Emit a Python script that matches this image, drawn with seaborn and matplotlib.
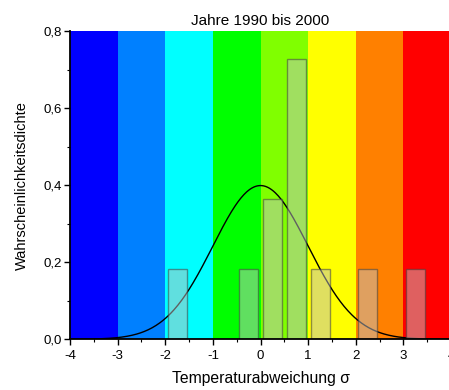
import numpy as np
import pandas as pd
import matplotlib
matplotlib.use("Agg")
import matplotlib.pyplot as plt
from matplotlib.ticker import MultipleLocator, FuncFormatter
import seaborn as sns

# Annual temperature deviations (in sigma) grouped into 0.5-wide classes
bin_centers = [-1.75, -0.25, 0.25, 0.75, 1.25, 2.25, 3.25]
year_counts = [1, 1, 2, 4, 1, 1, 1]

# Colour bands behind the histogram, one per sigma interval
band_edges = [-4, -3, -2, -1, 0, 1, 2, 3, 4]
band_colors = ["#0000FF", "#0080FF", "#00FFFF", "#00FF00",
               "#80FF00", "#FFFF00", "#FF8000", "#FF0000"]

title = "Jahre 1990 bis 2000"
x_label = "Temperaturabweichung σ"
y_label = "Wahrscheinlichkeitsdichte"

sns.set_theme(style="ticks")
plt.rcParams["font.family"] = ["Liberation Sans", "DejaVu Sans"]
plt.rcParams["axes.unicode_minus"] = False

fig = plt.figure(figsize=(4.49, 3.90), dpi=100)
ax = fig.add_axes([70 / 449, 50.7 / 390, 381 / 449, 308.3 / 390])

for lo, hi, c in zip(band_edges[:-1], band_edges[1:], band_colors):
    ax.axvspan(lo, hi, color=c, lw=0, zorder=0)

# Standard normal density
xs = np.linspace(-4, 4, 400)
curve = pd.DataFrame({"x": xs, "y": np.exp(-xs ** 2 / 2) / np.sqrt(2 * np.pi)})
sns.lineplot(data=curve, x="x", y="y", color="black", lw=1.0, ax=ax, zorder=2)

hist = pd.DataFrame({"dev": bin_centers, "n": year_counts})
sns.histplot(data=hist, x="dev", weights="n", stat="density",
             binwidth=0.5, binrange=(-2.0, 3.5), shrink=0.8,
             color="#C0C0C0", alpha=0.5, edgecolor="#404040",
             linewidth=1.0, ax=ax, zorder=3)
for p in ax.patches:
    if p.get_height() == 0:
        p.set_visible(False)
    else:
        p.set_edgecolor((0.25, 0.25, 0.25, 0.55))

ax.set_xlim(-4, 4)
ax.set_ylim(0, 0.8)
ax.xaxis.set_major_locator(MultipleLocator(1))
ax.xaxis.set_minor_locator(MultipleLocator(0.5))
ax.yaxis.set_major_locator(MultipleLocator(0.2))
ax.yaxis.set_minor_locator(MultipleLocator(0.1))
ax.xaxis.set_major_formatter(FuncFormatter(lambda v, _: f"{int(round(v))}"))
ax.yaxis.set_major_formatter(FuncFormatter(lambda v, _: f"{v:.1f}".replace(".", ",")))

for side in ("top", "right"):
    ax.spines[side].set_visible(False)
for side in ("left", "bottom"):
    ax.spines[side].set_color("black")
    ax.spines[side].set_linewidth(1.3)
    ax.spines[side].set_zorder(5)

ax.tick_params(which="major", direction="out", length=4, width=1.0,
               color="black", labelsize=9.5, labelcolor="black", pad=2)
ax.tick_params(axis="x", which="major", pad=3.5)
ax.tick_params(which="minor", direction="out", length=2.5, width=0.8, color="black")

ax.set_title(title, fontsize=11, pad=4, color="black")
ax.set_xlabel(x_label, fontsize=11.3, labelpad=7, color="black")
ax.set_ylabel(y_label, fontsize=10.5, labelpad=10, color="black")

fig.savefig("out.png", dpi=100)
